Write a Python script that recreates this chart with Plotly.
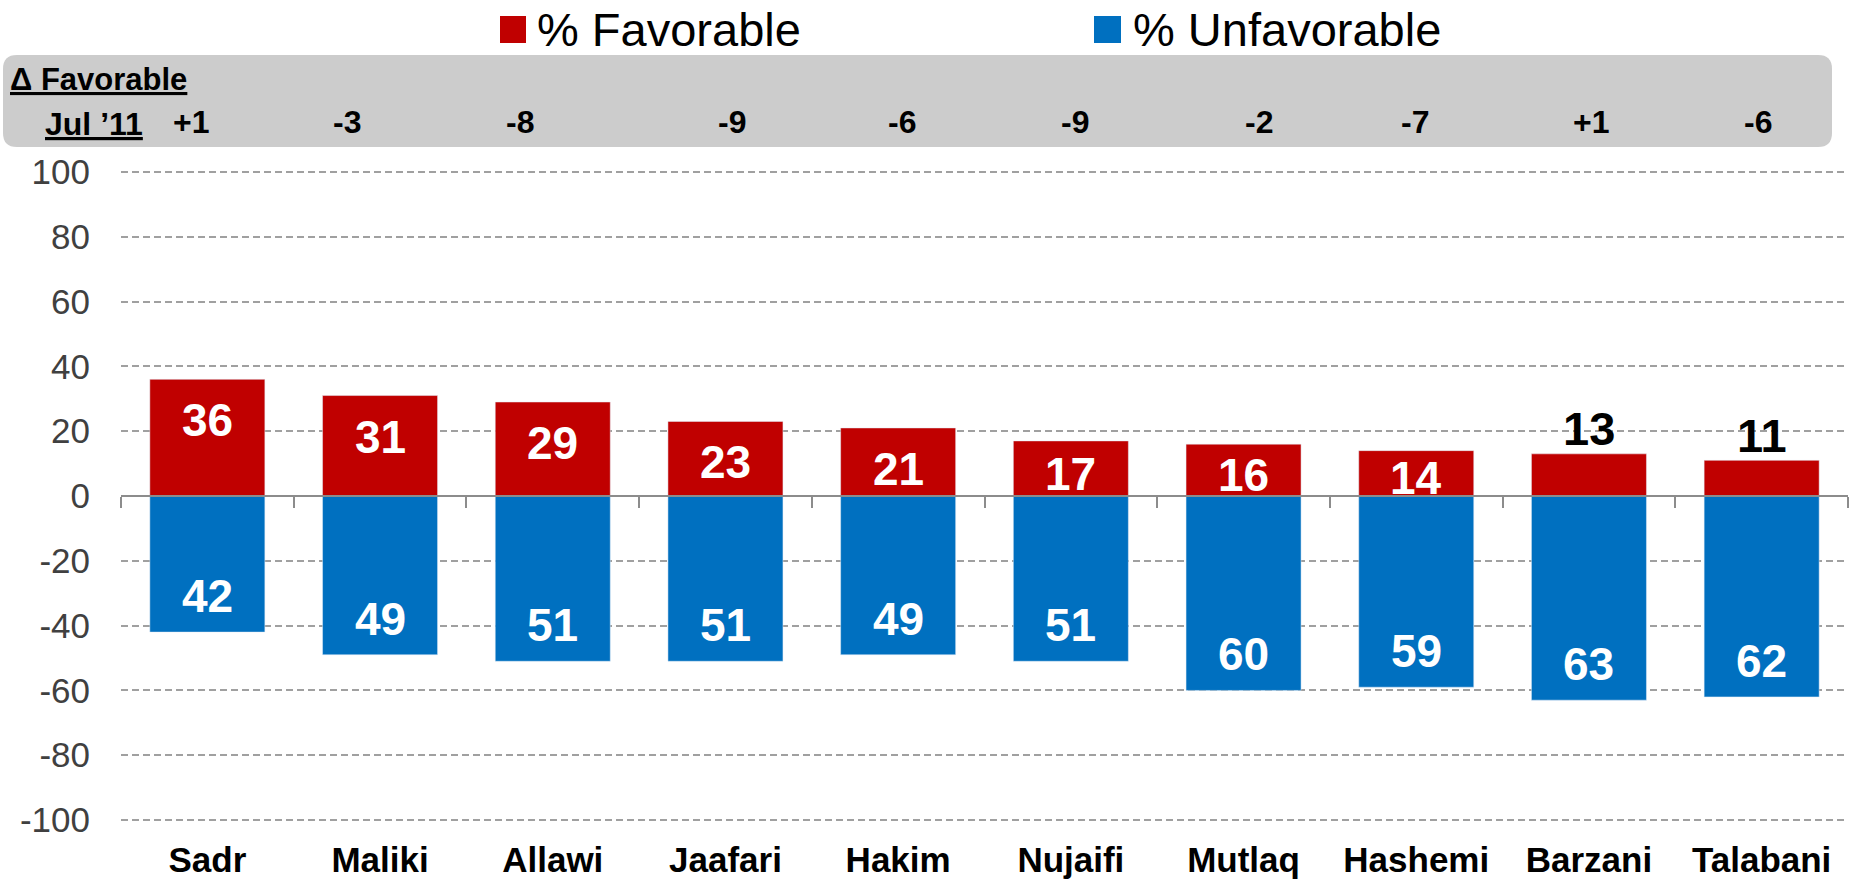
import plotly.graph_objects as go

# ---------------- data ----------------
politicians = ["Sadr", "Maliki", "Allawi", "Jaafari", "Hakim", "Nujaifi",
               "Mutlaq", "Hashemi", "Barzani", "Talabani"]
favorable = [36, 31, 29, 23, 21, 17, 16, 14, 13, 11]
unfavorable = [42, 49, 51, 51, 49, 51, 60, 59, 63, 62]
delta_favorable = ["+1", "-3", "-8", "-9", "-6", "-9", "-2", "-7", "+1", "-6"]
ytick_vals = [100, 80, 60, 40, 20, 0, -20, -40, -60, -80, -100]
ytick_text = ["100", "80", "60", "40", "20", "0", "-20", "-40", "-60", "-80", "-100"]

# ---------------- styling / layout ----------------
RED = "#C00000"
BLUE = "#0070C0"
FONT = "Liberation Sans, Arial, sans-serif"
FIG_W, FIG_H = 1853, 884
L, R, T, B = 121, 5, 170, 62
PW = FIG_W - L - R
PH = FIG_H - T - B
Y_MIN, Y_MAX = -100.6, 100.6
PX_PER_UNIT = PH / (Y_MAX - Y_MIN)
INSIDE_MIN = 14  # favorable values below this get an outside label
# small horizontal nudges (px) of the header delta labels, as placed in the original slide
DELTA_NUDGE = [-16, -33, -33, 7, 4, 4, 15, -1, 2, -4]


def fx(px):
    return (px - L) / PW


def fy(py):
    return (FIG_H - B - py) / PH


fig = go.Figure()
fig.add_trace(go.Bar(x=politicians, y=favorable, marker_color=RED,
                     name="% Favorable", showlegend=False,
                     xaxis="x", yaxis="y", hoverinfo="x+y"))
fig.add_trace(go.Bar(x=politicians, y=[-v for v in unfavorable], marker_color=BLUE,
                     name="% Unfavorable", showlegend=False,
                     xaxis="x2", yaxis="y", hoverinfo="x+y"))

annotations = []
# value labels
for name, v in zip(politicians, favorable):
    if v >= INSIDE_MIN:
        shift = -min(41, 0.6 * v * PX_PER_UNIT)
        annotations.append(dict(x=name, y=v, xref="x", yref="y", text=str(v),
                                showarrow=False, yshift=shift, yanchor="middle",
                                font=dict(family=FONT, size=46, color="white", weight="bold")))
    else:
        annotations.append(dict(x=name, y=v, xref="x", yref="y", text=str(v),
                                showarrow=False, yshift=25, yanchor="middle",
                                font=dict(family=FONT, size=47, color="black", weight="bold")))
for name, v in zip(politicians, unfavorable):
    annotations.append(dict(x=name, y=-v, xref="x", yref="y", text=str(v),
                            showarrow=False, yshift=36, yanchor="middle",
                            font=dict(family=FONT, size=46, color="white", weight="bold")))

# header row with deltas
for name, d, nudge in zip(politicians, delta_favorable, DELTA_NUDGE):
    annotations.append(dict(x=name, y=fy(122), xref="x", yref="paper", text=d,
                            showarrow=False, yanchor="middle", xshift=nudge,
                            font=dict(family=FONT, size=32, color="black", weight="bold")))
annotations.append(dict(x=fx(8), y=fy(80), xref="paper", yref="paper",
                        text="<u>Δ Favorable</u>", showarrow=False,
                        xanchor="left", yanchor="middle",
                        font=dict(family=FONT, size=31, color="black", weight="bold")))
annotations.append(dict(x=fx(43), y=fy(124), xref="paper", yref="paper",
                        text="<u>Jul ’11</u>", showarrow=False,
                        xanchor="left", yanchor="middle",
                        font=dict(family=FONT, size=32, color="black", weight="bold")))

# legend
annotations.append(dict(x=fx(535), y=fy(30), xref="paper", yref="paper",
                        text="% Favorable", showarrow=False, xanchor="left", yanchor="middle",
                        font=dict(family=FONT, size=47, color="black")))
annotations.append(dict(x=fx(1131), y=fy(30), xref="paper", yref="paper",
                        text="% Unfavorable", showarrow=False, xanchor="left", yanchor="middle",
                        font=dict(family=FONT, size=47, color="black")))

shapes = []
# rounded header box
x0, x1, y0, y1, r = 3, 1832, 55, 147, 14
pts = [
    ("M", [(x0 + r, y0)]),
    ("L", [(x1 - r, y0)]),
    ("Q", [(x1, y0), (x1, y0 + r)]),
    ("L", [(x1, y1 - r)]),
    ("Q", [(x1, y1), (x1 - r, y1)]),
    ("L", [(x0 + r, y1)]),
    ("Q", [(x0, y1), (x0, y1 - r)]),
    ("L", [(x0, y0 + r)]),
    ("Q", [(x0, y0), (x0 + r, y0)]),
]
path = " ".join(cmd + " " + " ".join(f"{fx(a):.5f},{fy(b):.5f}" for a, b in p) for cmd, p in pts) + " Z"
shapes.append(dict(type="path", path=path, xref="paper", yref="paper",
                   fillcolor="#CCCCCC", line=dict(width=0), layer="below"))
# legend squares
shapes.append(dict(type="rect", xref="paper", yref="paper", x0=fx(500), x1=fx(526),
                   y0=fy(43), y1=fy(16), fillcolor=RED, line=dict(width=0)))
shapes.append(dict(type="rect", xref="paper", yref="paper", x0=fx(1094), x1=fx(1121),
                   y0=fy(43), y1=fy(16), fillcolor=BLUE, line=dict(width=0)))

fig.update_layout(
    width=FIG_W, height=FIG_H,
    margin=dict(l=L, r=R, t=T, b=B, pad=0, autoexpand=False),
    paper_bgcolor="white", plot_bgcolor="white",
    barmode="relative", bargap=0.334,
    showlegend=False,
    annotations=annotations, shapes=shapes,
    xaxis=dict(type="category", categoryorder="array", categoryarray=politicians,
               range=[-0.5, len(politicians) - 0.5], automargin=False,
               showline=False, showgrid=False, zeroline=False, ticks="",
               ticklabelstandoff=14,
               tickfont=dict(family=FONT, size=35, color="black", weight="bold")),
    xaxis2=dict(type="category", categoryorder="array", categoryarray=politicians,
                range=[-0.5, len(politicians) - 0.5], automargin=False,
                overlaying="x", anchor="free", position=(0 - Y_MIN) / (Y_MAX - Y_MIN),
                showline=True, linecolor="#8C8C8C", linewidth=2,
                ticks="outside", tickson="boundaries", ticklen=11, tickwidth=2,
                tickcolor="#8C8C8C", showticklabels=False, showgrid=False, zeroline=False),
    yaxis=dict(range=[Y_MIN, Y_MAX], tickvals=ytick_vals, ticktext=ytick_text,
               automargin=False,
               showgrid=True, gridcolor="#A0A0A0", gridwidth=2, griddash="7px,4px",
               zeroline=False, showline=False, ticks="",
               ticklabelstandoff=30,
               tickfont=dict(family=FONT, size=35, color="#404040")),
)

fig.write_html("out.html", config={"displayModeBar": False},
               post_script="document.body.style.margin='0';")
